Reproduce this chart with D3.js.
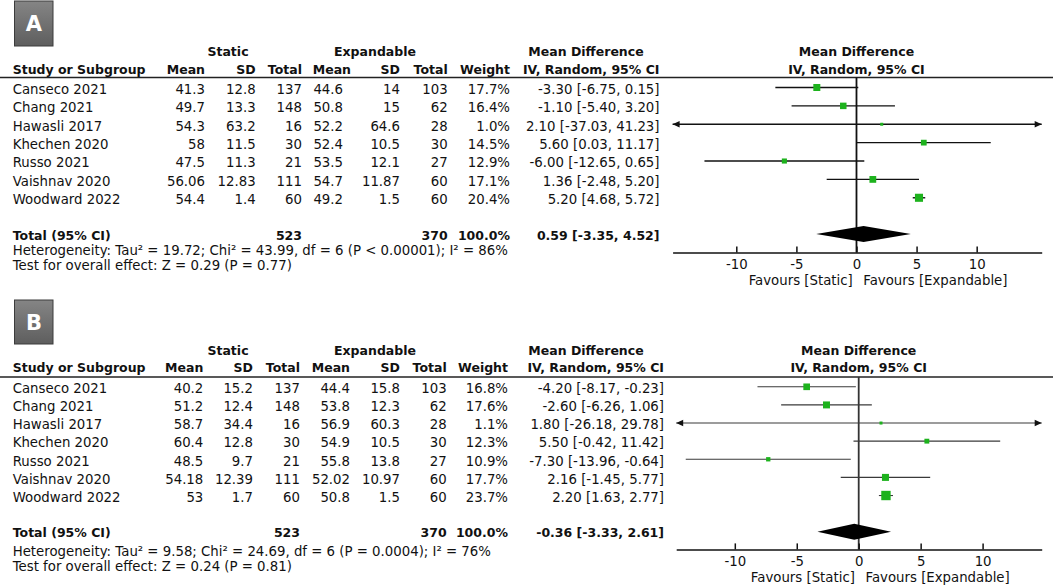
<!DOCTYPE html>
<html>
<head>
<meta charset="utf-8">
<script src="https://cdn.jsdelivr.net/npm/d3@7"></script>
<style>
  body { margin: 0; background: #fff; }
  svg text { font-family: 'DejaVu Sans', sans-serif; font-size: 13.3px; fill: #111; }
  svg text.b { font-weight: bold; font-size: 12.5px; }
</style>
</head>
<body>
<div id="chart"></div>
<script>
// study names shared by both panels
const studies = ['Canseco 2021', 'Chang 2021', 'Hawasli 2017', 'Khechen 2020', 'Russo 2021', 'Vaishnav 2020', 'Woodward 2022'];
const staticN = [137, 148, 16, 30, 21, 111, 60];
const expandN = [103, 62, 28, 30, 27, 60, 60];
const tickValues = [-10, -5, 0, 5, 10];

// panel A
const staticMeanA = [41.3, 49.7, 54.3, 58, 47.5, 56.06, 54.4];
const staticSdA = [12.8, 13.3, 63.2, 11.5, 11.3, 12.83, 1.4];
const expandMeanA = [44.6, 50.8, 52.2, 52.4, 53.5, 54.7, 49.2];
const expandSdA = [14, 15, 64.6, 10.5, 12.1, 11.87, 1.5];
const weightA = [17.7, 16.4, 1.0, 14.5, 12.9, 17.1, 20.4];
const mdA = [-3.30, -1.10, 2.10, 5.60, -6.00, 1.36, 5.20];
const lowA = [-6.75, -5.40, -37.03, 0.03, -12.65, -2.48, 4.68];
const highA = [0.15, 3.20, 41.23, 11.17, 0.65, 5.20, 5.72];
const totalA = [0.59, -3.35, 4.52];
const hetA = 'Heterogeneity: Tau\u00b2 = 19.72; Chi\u00b2 = 43.99, df = 6 (P < 0.00001); I\u00b2 = 86%';
const testA = 'Test for overall effect: Z = 0.29 (P = 0.77)';

// panel B
const staticMeanB = [40.2, 51.2, 58.7, 60.4, 48.5, 54.18, 53];
const staticSdB = [15.2, 12.4, 34.4, 12.8, 9.7, 12.39, 1.7];
const expandMeanB = [44.4, 53.8, 56.9, 54.9, 55.8, 52.02, 50.8];
const expandSdB = [15.8, 12.3, 60.3, 10.5, 13.8, 10.97, 1.5];
const weightB = [16.8, 17.6, 1.1, 12.3, 10.9, 17.7, 23.7];
const mdB = [-4.20, -2.60, 1.80, 5.50, -7.30, 2.16, 2.20];
const lowB = [-8.17, -6.26, -26.18, -0.42, -13.96, -1.45, 1.63];
const highB = [-0.23, 1.06, 29.78, 11.42, -0.64, 5.77, 2.77];
const totalB = [-0.36, -3.33, 2.61];
const hetB = 'Heterogeneity: Tau\u00b2 = 9.58; Chi\u00b2 = 24.69, df = 6 (P = 0.0004); I\u00b2 = 76%';
const testB = 'Test for overall effect: Z = 0.24 (P = 0.81)';

const svg = d3.select('#chart')
    .append('svg')
    .attr('width', 1053)
    .attr('height', 586);

const grad = svg.append('defs')
    .append('linearGradient')
    .attr('id', 'boxGrad')
    .attr('x1', '0%').attr('y1', '0%')
    .attr('x2', '0%').attr('y2', '100%');
grad.append('stop').attr('offset', '0%').attr('stop-color', '#858585');
grad.append('stop').attr('offset', '100%').attr('stop-color', '#5e5e5e');

const pct = v => v.toFixed(1) + '%';
const ci = (m, l, h) => `${m.toFixed(2)} [${l.toFixed(2)}, ${h.toFixed(2)}]`;
const sizeScale = d3.scaleLinear().domain([0, 24]).range([0, 9.5]);

function drawPanel(p) {
    const g = svg.append('g');
    const rowY = i => p.rowStart + i * p.rowStep;

    const x = d3.scaleLinear().domain(p.domain).range(p.range);
    const x0 = x(0);

    // letter badge
    g.append('rect')
        .attr('x', 14.5).attr('y', p.boxY)
        .attr('width', 38.5).attr('height', p.boxH)
        .attr('fill', 'url(#boxGrad)')
        .attr('stroke', '#3c3c3c').attr('stroke-width', 1);
    g.append('text')
        .attr('x', 34).attr('y', p.boxY + p.boxH / 2)
        .attr('dy', '0.36em')
        .attr('text-anchor', 'middle')
        .style('font-size', '21px').style('font-weight', 'bold').style('fill', '#fff')
        .text(p.label);

    const txt = (xp, y, s, anchor, bold) => g.append('text')
        .attr('class', bold ? 'b' : null)
        .attr('x', xp).attr('y', y).attr('dy', '0.36em')
        .attr('text-anchor', anchor)
        .text(s);

    // group headers
    txt(228, p.grpY, 'Static', 'middle', true);
    txt(375, p.grpY, 'Expandable', 'middle', true);
    txt(586, p.grpY, 'Mean Difference', 'middle', true);
    txt(x0, p.grpY, 'Mean Difference', 'middle', true);

    // column headers
    txt(12.7, p.hdrY, 'Study or Subgroup', 'start', true);
    txt(p.col.sMean, p.hdrY, 'Mean', 'end', true);
    txt(p.col.sSd, p.hdrY, 'SD', 'end', true);
    txt(p.col.sN, p.hdrY, 'Total', 'end', true);
    txt(p.col.eMeanHdr, p.hdrY, 'Mean', 'end', true);
    txt(p.col.eSd, p.hdrY, 'SD', 'end', true);
    txt(p.col.eN, p.hdrY, 'Total', 'end', true);
    txt(p.col.w, p.hdrY, 'Weight', 'end', true);
    txt(p.col.md, p.hdrY, 'IV, Random, 95% CI', 'end', true);
    txt(x0, p.hdrY, 'IV, Random, 95% CI', 'middle', true);

    g.append('line')
        .attr('x1', 0).attr('x2', 1053)
        .attr('y1', p.lineY).attr('y2', p.lineY)
        .attr('stroke', '#222').attr('stroke-width', 1.5);

    // study rows
    studies.forEach((s, i) => {
        const y = rowY(i);
        txt(12.7, y, s, 'start');
        txt(p.col.sMean, y, String(p.sMean[i]), 'end');
        txt(p.col.sSd, y, String(p.sSd[i]), 'end');
        txt(p.col.sN, y, String(staticN[i]), 'end');
        txt(p.col.eMean, y, String(p.eMean[i]), 'end');
        txt(p.col.eSd, y, String(p.eSd[i]), 'end');
        txt(p.col.eN, y, String(expandN[i]), 'end');
        txt(p.col.w, y, pct(p.weight[i]), 'end');
        txt(p.col.md, y, ci(p.md[i], p.low[i], p.high[i]), 'end');
    });

    // totals and footnotes
    txt(12.7, p.totalY, 'Total (95% CI)', 'start', true);
    txt(p.col.sN, p.totalY, String(d3.sum(staticN)), 'end', true);
    txt(p.col.eN, p.totalY, String(d3.sum(expandN)), 'end', true);
    txt(p.col.w, p.totalY, '100.0%', 'end', true);
    txt(p.col.md, p.totalY, ci(p.total[0], p.total[1], p.total[2]), 'end', true);
    txt(12.7, p.hetY, p.het, 'start');
    txt(12.7, p.testY, p.test, 'start');

    // zero line
    g.append('line')
        .attr('x1', x0).attr('x2', x0)
        .attr('y1', p.lineY).attr('y2', p.axisY)
        .attr('stroke', p.zeroColor).attr('stroke-width', 1.8);

    // confidence intervals and squares
    const [r0, r1] = x.range();
    studies.forEach((s, i) => {
        const y = rowY(i) - 1.5;
        const lo = Math.max(x(p.low[i]), r0);
        const hi = Math.min(x(p.high[i]), r1);
        g.append('line')
            .attr('x1', lo).attr('x2', hi)
            .attr('y1', y).attr('y2', y)
            .attr('stroke', p.ciColor).attr('stroke-width', p.ciWidth);
        if (x(p.low[i]) < r0) {
            g.append('path')
                .attr('d', `M${r0},${y}L${r0 + 7},${y - 3.2}L${r0 + 7},${y + 3.2}Z`)
                .attr('fill', '#111');
        }
        if (x(p.high[i]) > r1) {
            g.append('path')
                .attr('d', `M${r1},${y}L${r1 - 7},${y - 3.2}L${r1 - 7},${y + 3.2}Z`)
                .attr('fill', '#111');
        }
        const sz = Math.max(3, sizeScale(p.weight[i]));
        g.append('rect')
            .attr('x', x(p.md[i]) - sz / 2)
            .attr('y', y - sz / 2)
            .attr('width', sz).attr('height', sz)
            .attr('fill', '#1db21d');
    });

    // pooled diamond
    const ty = p.totalY - 1;
    g.append('path')
        .attr('d', `M${x(p.total[1])},${ty}L${x(p.total[0])},${ty - 8}L${x(p.total[2])},${ty}L${x(p.total[0])},${ty + 8}Z`)
        .attr('fill', '#000');

    // axis
    const axis = g.append('g')
        .attr('transform', `translate(0,${p.axisY})`)
        .call(d3.axisBottom(x)
            .tickValues(tickValues)
            .tickFormat(d => String(d))
            .tickSizeInner(-6)
            .tickSizeOuter(0)
            .tickPadding(7));
    axis.select('.domain').attr('stroke', '#111').attr('stroke-width', 1.5);
    axis.selectAll('.tick line').attr('stroke', '#111').attr('stroke-width', 1.5);
    axis.selectAll('.tick text')
        .style('font-family', "'DejaVu Sans', sans-serif")
        .style('font-size', '13.3px')
        .attr('fill', '#111');

    txt(x0 - 3.8, p.axisY + 28, 'Favours [Static]', 'end');
    txt(x0 + 6.8, p.axisY + 28, 'Favours [Expandable]', 'start');
}

drawPanel({
    label: 'A',
    boxY: 1, boxH: 45,
    grpY: 51, hdrY: 69, lineY: 77.5,
    rowStart: 89, rowStep: 18.38,
    totalY: 235, hetY: 250, testY: 265,
    axisY: 252.5,
    domain: [-15.3, 15.41], range: [672.6, 1041.7],
    col: { sMean: 205, sSd: 255.7, sN: 302, eMeanHdr: 351, eMean: 343, eSd: 400, eN: 447.7, w: 510, md: 659.5 },
    sMean: staticMeanA, sSd: staticSdA, eMean: expandMeanA, eSd: expandSdA,
    weight: weightA, md: mdA, low: lowA, high: highA, total: totalA,
    het: hetA, test: testA,
    ciColor: '#111', ciWidth: 1.4, zeroColor: '#111'
});

drawPanel({
    label: 'B',
    boxY: 300, boxH: 44,
    grpY: 350, hdrY: 367.7, lineY: 377,
    rowStart: 388.3, rowStep: 18.12,
    totalY: 532.7, hetY: 551, testY: 566,
    axisY: 549.4,
    domain: [-14.73, 14.77], range: [676.2, 1041.7],
    col: { sMean: 203.3, sSd: 253, sN: 300, eMeanHdr: 350, eMean: 350, eSd: 400, eN: 446.7, w: 508, md: 664 },
    sMean: staticMeanB, sSd: staticSdB, eMean: expandMeanB, eSd: expandSdB,
    weight: weightB, md: mdB, low: lowB, high: highB, total: totalB,
    het: hetB, test: testB,
    ciColor: '#3a3a3a', ciWidth: 1.1, zeroColor: '#333'
});
</script>
</body>
</html>
